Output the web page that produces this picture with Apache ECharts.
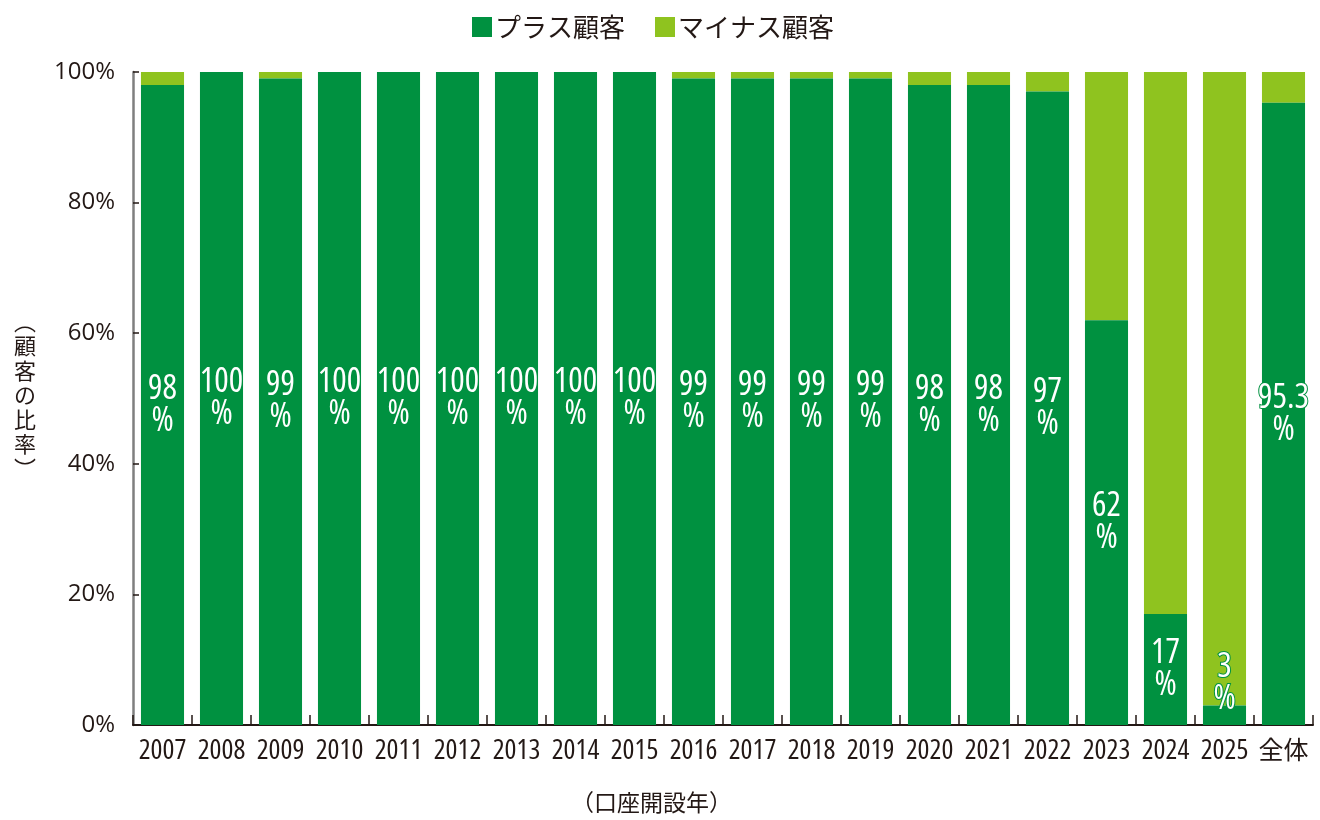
<!DOCTYPE html>
<html>
<head>
<meta charset="utf-8">
<script src="https://cdn.jsdelivr.net/npm/echarts@6/dist/echarts.min.js"></script>
<style>html,body{margin:0;padding:0;background:#fff;}#c{width:1320px;height:820px;}</style>
</head>
<body>
<div id="c"></div>
<script>
const categories = ['2007','2008','2009','2010','2011','2012','2013','2014','2015','2016','2017','2018','2019','2020','2021','2022','2023','2024','2025','全体'];
const plusValues = [98,100,99,100,100,100,100,100,100,99,99,99,99,98,98,97,62,17,3,95.3];
const minusValues = [2,0,1,0,0,0,0,0,0,1,1,1,1,2,2,3,38,83,97,4.7];
const yTickLabels = ['0%','20%','40%','60%','80%','100%'];
const seriesNames = ['プラス顧客','マイナス顧客'];
const xAxisTitle = '（口座開設年）';
const yAxisTitle = '︵\n顧\n客\nの\n比\n率\n︶';

const DARK = '#009140';
const LIGHT = '#8fc31f';
const TXT = '#231815';
const NUMFONT = '"Open Sans", "Noto Sans CJK JP", sans-serif';
const JPFONT = '"Noto Sans CJK JP", sans-serif';
const COND = 'condensed';

const chart = echarts.init(document.getElementById('c'));
chart.setOption({
  animation: false,
  backgroundColor: '#fff',
  legend: {
    top: 9, left: 467,
    itemWidth: 20, itemHeight: 20, itemGap: 30,
    icon: 'rect',
    textStyle: {fontSize: 26, color: TXT, fontFamily: JPFONT, padding: [0, 0, 0, -2]},
    data: seriesNames
  },
  title: [
    {text: xAxisTitle, left: 566, top: 786,
     textStyle: {fontSize: 23, fontWeight: 'normal', color: TXT, fontFamily: JPFONT}}
  ],
  graphic: [
    {type: 'text', x: 25, y: 309,
     style: {text: yAxisTitle, fill: TXT, fontSize: 22, fontFamily: 'Noto Sans CJK JP', lineHeight: 24.5, textAlign: 'center', verticalAlign: 'top'}}
  ],
  grid: {left: 133, right: 7, top: 72, bottom: 95, containLabel: false},
  xAxis: {
    type: 'category', data: categories,
    axisLine: {lineStyle: {color: TXT, width: 2}},
    axisTick: {show: true, inside: true, length: 10, lineStyle: {color: TXT, width: 1.5}},
    axisLabel: {fontSize: 28, fontWeight: COND, color: TXT, fontFamily: NUMFONT, margin: 12, interval: 0,
      formatter: function (v) { return /^\d+$/.test(v) ? v : '{j|' + v + '}'; },
      rich: {j: {fontSize: 25, fontFamily: JPFONT, color: TXT}}}
  },
  yAxis: {
    type: 'value', min: 0, max: 100, interval: 20,
    axisLine: {show: true, lineStyle: {color: '#7f7f7f', width: 2.5}},
    axisTick: {show: true, inside: true, length: 6, lineStyle: {color: TXT, width: 1.5}},
    splitLine: {show: false},
    axisLabel: {fontSize: 24, color: TXT, fontFamily: NUMFONT, margin: 18,
      formatter: function (v) { return yTickLabels[Math.round(v / 20)]; }}
  },
  series: [
    {
      name: seriesNames[0], type: 'bar', stack: 's', barWidth: '73%',
      itemStyle: {color: DARK},
      data: plusValues.map(function (v, i) {
        const d = {value: v};
        if (i === 18) d.label = {offset: [0, -32]};
        return d;
      }),
      label: {
        show: true, position: 'inside', color: '#fff',
        fontSize: 34, lineHeight: 32, fontWeight: COND, fontFamily: NUMFONT,
        textBorderColor: DARK, textBorderWidth: 2,
        formatter: function (p) { return p.value + '\n%'; }
      },
      z: 3
    },
    {
      name: seriesNames[1], type: 'bar', stack: 's', barWidth: '73%',
      itemStyle: {color: LIGHT},
      data: minusValues,
      label: {show: false},
      z: 2
    }
  ]
});
</script>
</body>
</html>
